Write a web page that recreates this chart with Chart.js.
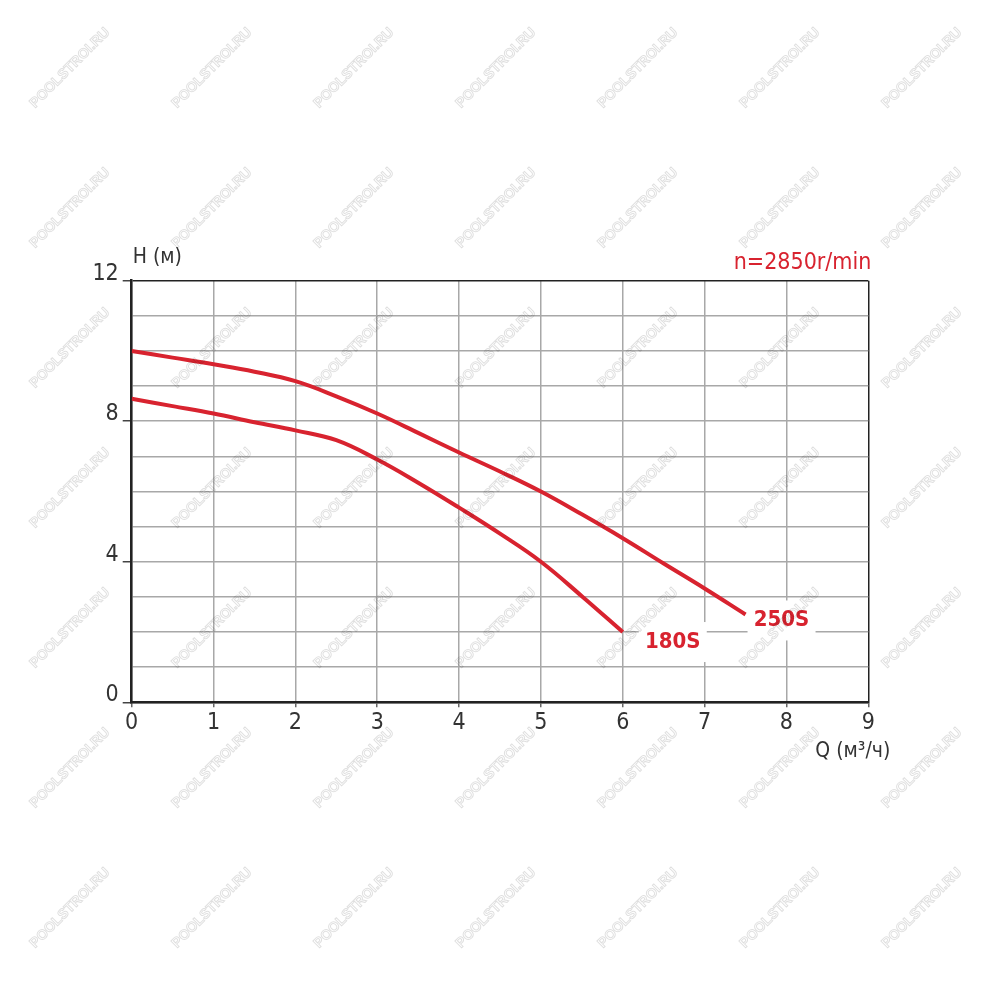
<!DOCTYPE html>
<html>
<head>
<meta charset="utf-8">
<script src="https://cdn.jsdelivr.net/npm/chart.js@4"></script>
<style>
  html, body { margin: 0; padding: 0; background: #fff; }
  #wrap { width: 1000px; height: 1000px; }
</style>
</head>
<body>
<div id="wrap"><canvas id="graph1"></canvas></div>
<script>
// data (Q in m3/h, H in m)
var q180 = [0, 0.5, 1, 1.5, 2, 2.5, 3, 3.5, 4, 4.5, 5, 5.5, 6];
var h180 = [8.64, 8.43, 8.22, 7.97, 7.74, 7.46, 6.91, 6.25, 5.54, 4.8, 4.0, 3.02, 2.0];
var q250 = [0, 0.5, 1, 1.5, 2, 2.5, 3, 3.5, 4, 4.5, 5, 5.5, 6, 6.5, 7, 7.5];
var h250 = [10.0, 9.81, 9.62, 9.41, 9.14, 8.71, 8.22, 7.67, 7.11, 6.57, 6.0, 5.35, 4.67, 3.95, 3.24, 2.5];
var seriesNames = ["180S", "250S"];
var yLabelTicks = [0, 4, 8, 12];

var FONT = "'Liberation Sans Narrow', 'DejaVu Sans Condensed', Arial, sans-serif";
var RED = '#d8232f';

function toPoints(xs, ys) {
    var pts = [];
    for (let i = 0; i < xs.length; i++) {
        pts.push({x: xs[i], y: ys[i]});
    }
    return pts;
}

// curve names, axis titles, speed note, watermark
var extras = {
    id: 'extras',
    afterDatasetsDraw(chart) {
        let ctx = chart.ctx;
        let xs = chart.scales.x, ys = chart.scales.y;
        ctx.save();
        // curve names on white boxes
        let offs = [[50, 10], [36, 6]];
        chart.data.datasets.forEach(function(ds, i) {
            let last = ds.data[ds.data.length - 1];
            let px = xs.getPixelForValue(last.x) + offs[i][0];
            let py = ys.getPixelForValue(last.y) + offs[i][1];
            ctx.fillStyle = '#fff';
            ctx.fillRect(px - 34, py - 20, 68, 40);
            ctx.font = 'bold 22px ' + FONT;
            ctx.fillStyle = RED;
            ctx.textAlign = 'center';
            ctx.textBaseline = 'middle';
            ctx.fillText(ds.label, px, py);
        });
        // axis titles
        ctx.fillStyle = '#333';
        ctx.font = '21px ' + FONT;
        ctx.textAlign = 'left';
        ctx.textBaseline = 'alphabetic';
        ctx.fillText('H (м)', chart.chartArea.left + 1, chart.chartArea.top - 18);
        ctx.textAlign = 'right';
        ctx.fillText('Q (м³/ч)', chart.chartArea.right + 22, chart.chartArea.bottom + 55);
        ctx.fillStyle = RED;
        ctx.font = '23px ' + FONT;
        ctx.fillText('n=2850r/min', chart.chartArea.right + 3, chart.chartArea.top - 12);
        // faint watermark
        ctx.font = 'bold 14px Arial, sans-serif';
        ctx.textAlign = 'center';
        ctx.textBaseline = 'middle';
        ctx.strokeStyle = 'rgba(0,0,0,0.13)';
        ctx.lineWidth = 1;
        for (let r = 0; r < 8; r++) {
            for (let c = 0; c < 7; c++) {
                ctx.save();
                ctx.translate(70 + c * 142, 68 + r * 140);
                ctx.rotate(-Math.PI / 4);
                ctx.strokeText('POOLSTROI.RU', 0, 0);
                ctx.restore();
            }
        }
        ctx.restore();
    }
};

let graph1 = document.getElementById('graph1').getContext('2d');
const myChart = new Chart(graph1, {
    type: 'line',
    data: {
        datasets: [{
            label: seriesNames[0],
            data: toPoints(q180, h180),
            borderColor: RED,
            borderWidth: 4,
            pointRadius: 0,
            fill: false,
            tension: 0.4
        }, {
            label: seriesNames[1],
            data: toPoints(q250, h250),
            borderColor: RED,
            borderWidth: 4,
            pointRadius: 0,
            fill: false,
            tension: 0.4
        }]
    },
    options: {
        responsive: true,
        maintainAspectRatio: false,
        animation: false,
        layout: { padding: { top: 280.7, right: 131.7, left: 0, bottom: 0 } },
        plugins: {
            legend: { display: false },
            tooltip: { enabled: false }
        },
        scales: {
            x: {
                type: 'linear',
                min: 0,
                max: 9,
                afterFit(scale) { scale.height = 297.7; },
                ticks: {
                    stepSize: 1,
                    color: '#333',
                    font: { family: FONT, size: 23 },
                    padding: 2,
                    maxRotation: 0
                },
                grid: {
                    color: function(c) { return c.tick && c.tick.value === 9 ? '#222' : '#a8a8a8'; },
                    lineWidth: 1.5,
                    tickLength: 5,
                    tickColor: '#666'
                },
                border: { color: '#222', width: 2.5 }
            },
            y: {
                min: 0,
                max: 12,
                afterFit(scale) { scale.width = 131.7; },
                ticks: {
                    stepSize: 1,
                    color: '#333',
                    font: { family: FONT, size: 23 },
                    padding: 4,
                    labelOffset: -7,
                    callback: function(v) { return yLabelTicks.indexOf(v) >= 0 ? v : ''; }
                },
                grid: {
                    color: function(c) { return c.tick && c.tick.value === 12 ? '#222' : '#a8a8a8'; },
                    lineWidth: 1.5,
                    tickLength: 9,
                    tickColor: function(c) { return c.tick && yLabelTicks.indexOf(c.tick.value) >= 0 ? '#444' : 'rgba(0,0,0,0)'; }
                },
                border: { color: '#222', width: 2.5 }
            }
        }
    },
    plugins: [extras]
});
</script>
</body>
</html>
